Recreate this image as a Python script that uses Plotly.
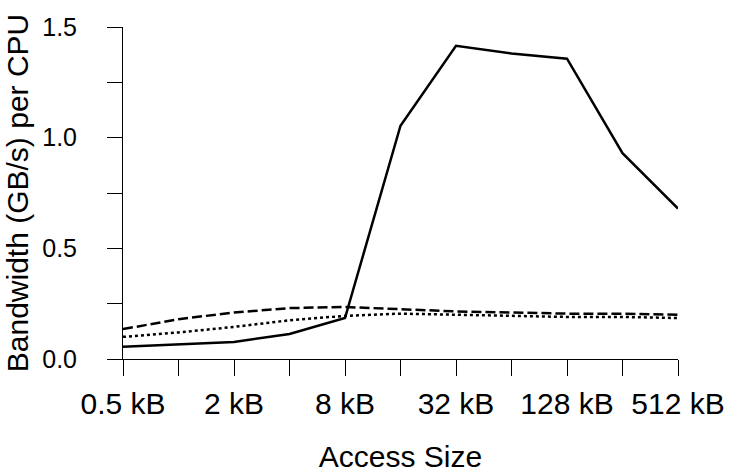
import plotly.graph_objects as go
import math

sizes_kb = [0.5, 1, 2, 4, 8, 16, 32, 64, 128, 256, 512]
tick_text = ["0.5 kB", "", "2 kB", "", "8 kB", "", "32 kB", "", "128 kB", "", "512 kB"]

solid = [0.055, 0.065, 0.077, 0.113, 0.185, 1.054, 1.415, 1.38, 1.357, 0.93, 0.68]
dashed = [0.135, 0.18, 0.21, 0.23, 0.235, 0.225, 0.215, 0.21, 0.205, 0.205, 0.2]
dotted = [0.1, 0.12, 0.145, 0.175, 0.195, 0.205, 0.2, 0.195, 0.19, 0.19, 0.185]

FONT = "Liberation Sans, Arial, sans-serif"

fig = go.Figure()
fig.add_trace(go.Scatter(x=sizes_kb, y=dashed, mode="lines",
                         line=dict(color="black", width=2.5, dash="10px,4px")))
fig.add_trace(go.Scatter(x=sizes_kb, y=dotted, mode="lines",
                         line=dict(color="black", width=2.5, dash="3px,3px")))
fig.add_trace(go.Scatter(x=sizes_kb, y=solid, mode="lines",
                         line=dict(color="black", width=2.5)))

fig.update_layout(
    width=729, height=473,
    margin=dict(l=123, r=51, t=27, b=114),
    paper_bgcolor="white", plot_bgcolor="white",
    showlegend=False,
    font=dict(family=FONT, color="black"),
    xaxis=dict(
        type="log",
        range=[math.log10(0.5), math.log10(512)],
        tickvals=sizes_kb, ticktext=tick_text,
        ticks="outside", ticklen=16, tickwidth=1, tickcolor="black",
        showline=True, linecolor="black", linewidth=1,
        showgrid=False, zeroline=False,
        tickfont=dict(size=30, family=FONT),
        ticklabelstandoff=2,
        automargin=False,
        title=dict(text="Access Size", font=dict(size=30, family=FONT), standoff=27),
    ),
    yaxis=dict(
        range=[0, 1.5],
        tickvals=[0, 0.5, 1.0, 1.5], ticktext=["0.0", "0.5", "1.0", "1.5"],
        ticks="outside", ticklen=15, tickwidth=1, tickcolor="black",
        minor=dict(tickvals=[0.25, 0.75, 1.25], ticks="outside", ticklen=15,
                   tickwidth=1, tickcolor="black", showgrid=False),
        showline=True, linecolor="black", linewidth=1,
        showgrid=False, zeroline=False,
        tickfont=dict(size=25, family=FONT),
        ticklabelstandoff=25,
        automargin=False,
        title=dict(text="Bandwidth (GB/s) per CPU", font=dict(size=30, family=FONT), standoff=4),
    ),
)

fig.write_html(
    "out.html",
    config={"displayModeBar": False},
    post_script="document.body.style.margin='0';document.body.style.overflow='hidden';",
)
